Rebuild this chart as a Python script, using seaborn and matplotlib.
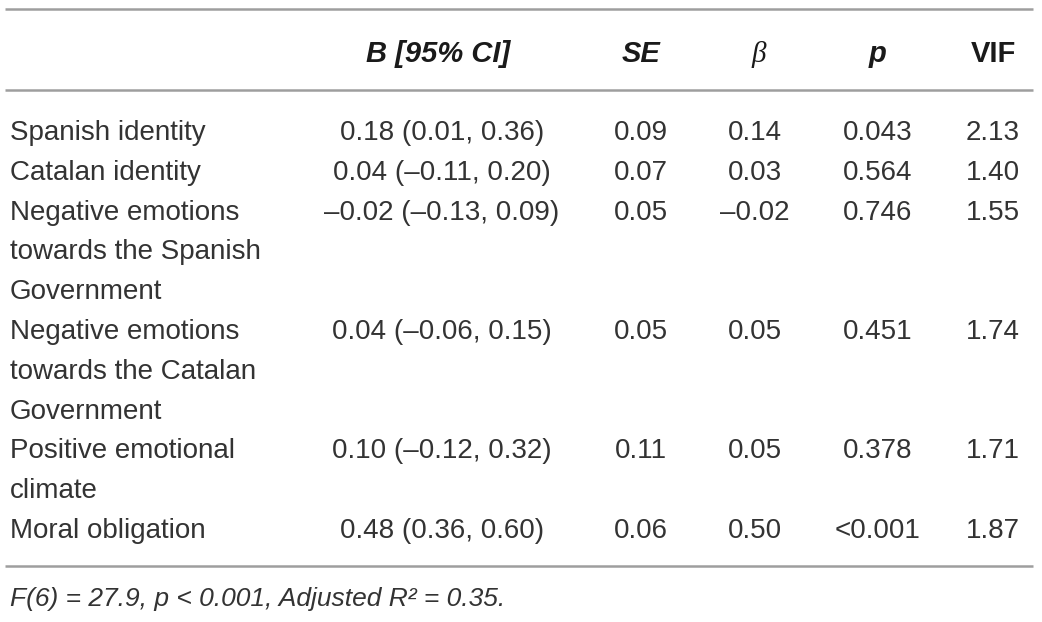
import matplotlib
matplotlib.use("Agg")
import matplotlib.pyplot as plt
import seaborn as sns

# table contents
predictors = [
    "Spanish identity",
    "Catalan identity",
    "Negative emotions\ntowards the Spanish\nGovernment",
    "Negative emotions\ntowards the Catalan\nGovernment",
    "Positive emotional\nclimate",
    "Moral obligation",
]
b_ci = [
    "0.18 (0.01, 0.36)",
    "0.04 (\u20130.11, 0.20)",
    "\u20130.02 (\u20130.13, 0.09)",
    "0.04 (\u20130.06, 0.15)",
    "0.10 (\u20130.12, 0.32)",
    "0.48 (0.36, 0.60)",
]
se = ["0.09", "0.07", "0.05", "0.05", "0.11", "0.06"]
beta = ["0.14", "0.03", "\u20130.02", "0.05", "0.05", "0.50"]
p_vals = ["0.043", "0.564", "0.746", "0.451", "0.378", "<0.001"]
vif = ["2.13", "1.40", "1.55", "1.74", "1.71", "1.87"]
footnote = "F(6) = 27.9, p < 0.001, Adjusted R\u00b2 = 0.35."

sns.set_theme(style="white")
plt.rcParams["font.family"] = ["Liberation Sans", "DejaVu Sans"]

fig = plt.figure(figsize=(10.42, 6.22), dpi=100)
ax = fig.add_axes([0, 0, 1, 1])
ax.set_xlim(0, 1042)
ax.set_ylim(622, 0)
ax.axis("off")

line_col = "#9e9e9e"
for y in (9, 90, 566):
    ax.plot([5, 1033], [y, y], color=line_col, lw=1.8, solid_capstyle="butt")

txt = "#333333"
head = "#1a1a1a"
fs = 20
col_x = [442, 641, 755, 878, 993]

# header
hy = 62
hfs = 21
ax.text(438, hy, "B [95% CI]", ha="center", va="baseline", fontsize=hfs,
        fontweight="bold", fontstyle="italic", color=head)
ax.text(col_x[1], hy, "SE", ha="center", va="baseline", fontsize=hfs,
        fontweight="bold", fontstyle="italic", color=head)
ax.text(col_x[2] + 4, hy, "\u03b2", ha="center", va="baseline", fontsize=hfs,
        fontstyle="italic", family=["Liberation Serif", "DejaVu Serif"], color=head)
ax.text(col_x[3], hy, "p", ha="center", va="baseline", fontsize=hfs,
        fontweight="bold", fontstyle="italic", color=head)
ax.text(col_x[4], hy, "VIF", ha="center", va="baseline", fontsize=hfs,
        fontweight="bold", color=head)

# body rows
step = 39.8
y = 140
for i, name in enumerate(predictors):
    lines = name.split("\n")
    for j, ln in enumerate(lines):
        ax.text(10, y + j * step, ln, ha="left", va="baseline", fontsize=fs,
                color=txt)
    for cx, col in zip(col_x, [b_ci, se, beta, p_vals, vif]):
        ax.text(cx, y, col[i], ha="center", va="baseline", fontsize=fs,
                color=txt)
    y += step * len(lines)

ax.text(10, 606, footnote, ha="left", va="baseline", fontsize=19,
        fontstyle="italic", color=txt)

fig.savefig("out.png", dpi=100)
